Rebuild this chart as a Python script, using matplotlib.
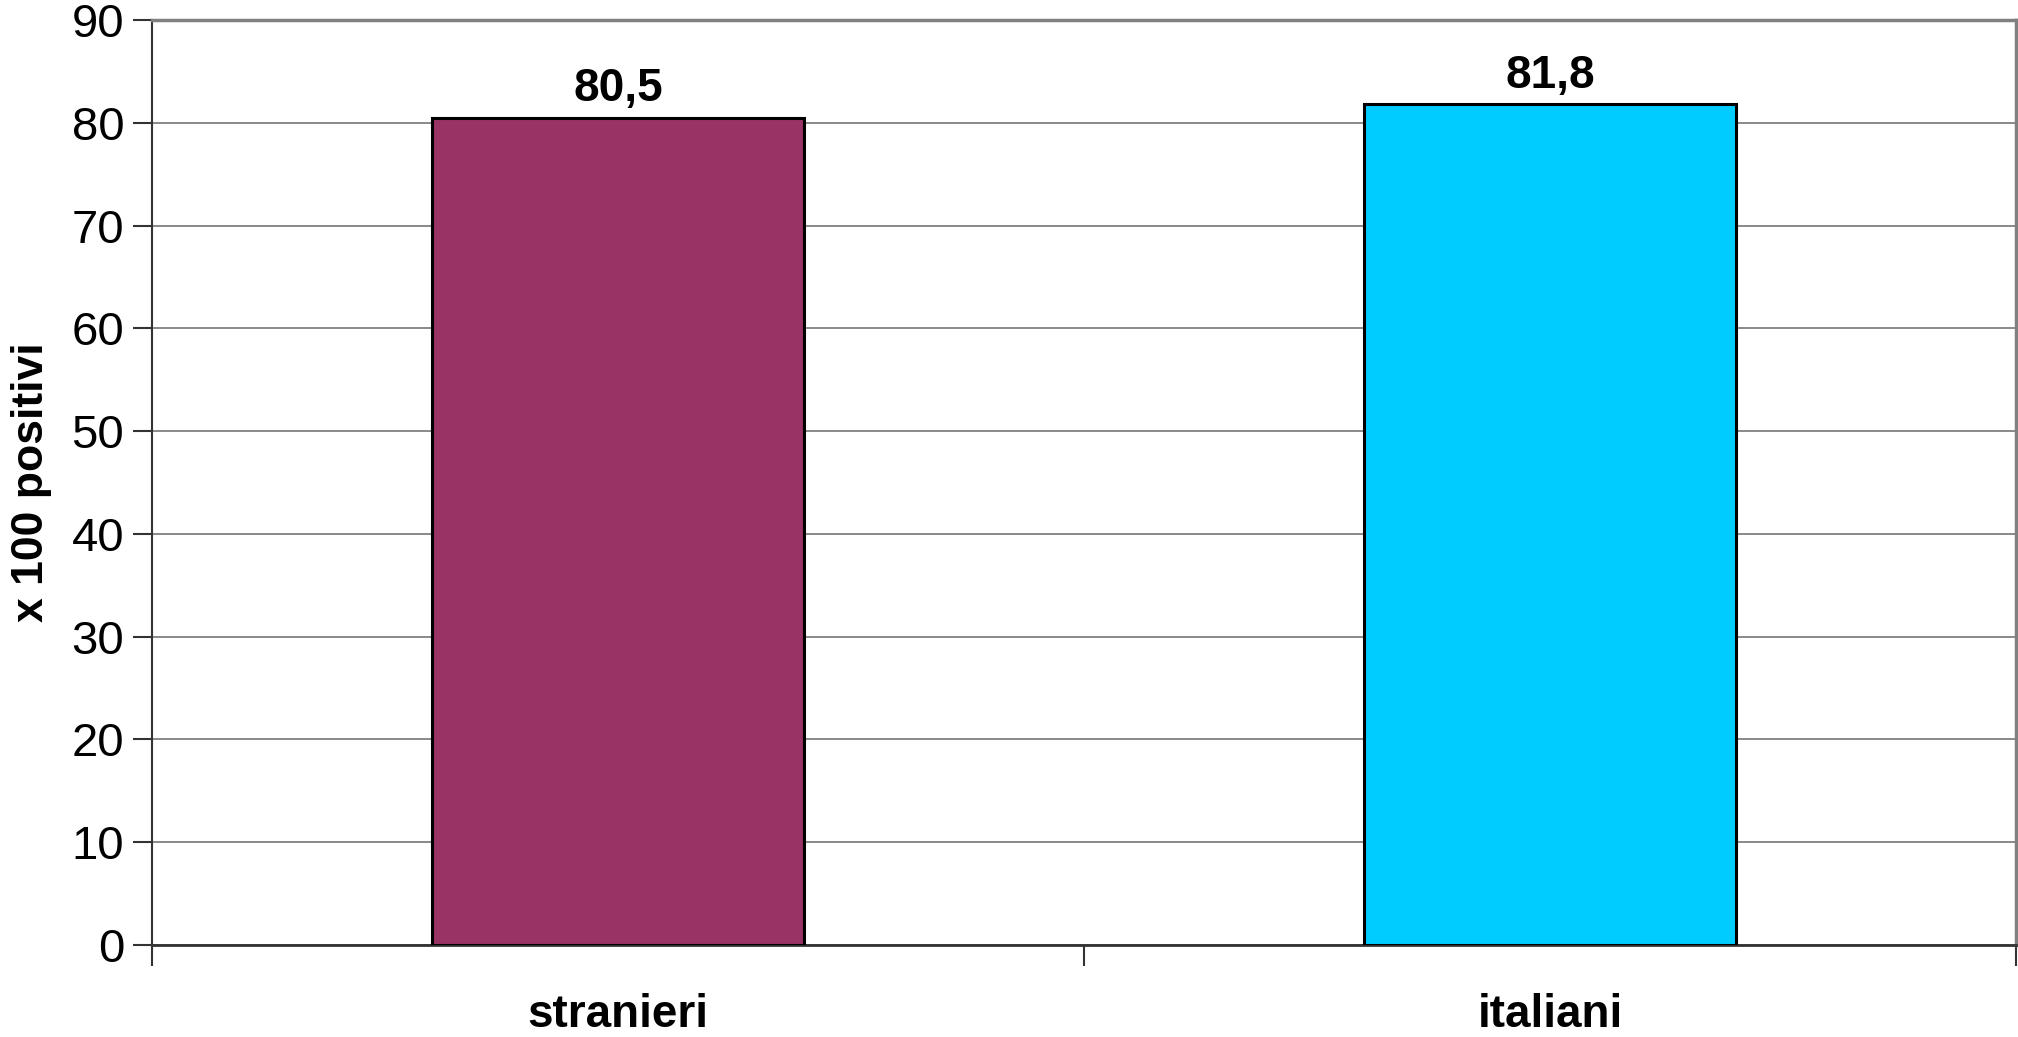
import numpy as np
import matplotlib.pyplot as plt

plt.rcParams['font.family'] = ['Liberation Sans', 'DejaVu Sans']

# Dati
categorie = ['stranieri', 'italiani']
valori = [80.5, 81.8]
etichette = ['80,5', '81,8']
colori = ['#993366', '#00CCFF']

fig = plt.figure(figsize=(20.18, 10.37), dpi=100)
ax = fig.add_axes([152 / 2018, 1 - 945 / 1037, (2016 - 152) / 2018, (945 - 20) / 1037])

x = np.arange(len(categorie))
ax.bar(x, valori, width=0.4, color=colori, edgecolor='black', linewidth=2.2, zorder=3)

for xi, v, lab in zip(x, valori, etichette):
    ax.text(xi, v + 0.6, lab, ha='center', va='bottom', fontsize=33, fontweight='bold')

ax.set_xlim(-0.5, 1.5)
ax.set_ylim(0, 90)
ax.set_yticks(np.arange(0, 91, 10))
ax.tick_params(axis='y', labelsize=34, length=14, width=1.5, pad=6, color='#333333')
ax.grid(axis='y', color='#808080', linewidth=1.3, zorder=0)

# etichette categorie al centro, tacche ai bordi
ax.set_xticks([-0.5, 0.5, 1.5])
ax.set_xticklabels([])
ax.tick_params(axis='x', length=15, width=1.5, color='#333333')
for xi, c in zip(x, categorie):
    ax.text(xi, -6.8, c, ha='center', va='center', fontsize=33, fontweight='bold')

ax.set_ylabel('x 100 positivi', fontsize=32, fontweight='bold', labelpad=14)

ax.spines['top'].set_color('#808080')
ax.spines['top'].set_linewidth(2.5)
ax.spines['right'].set_color('#808080')
ax.spines['right'].set_linewidth(2.5)
ax.spines['left'].set_color('#333333')
ax.spines['left'].set_linewidth(1.5)
ax.spines['bottom'].set_color('#333333')
ax.spines['bottom'].set_linewidth(2)

fig.savefig('out.png', dpi=100)
